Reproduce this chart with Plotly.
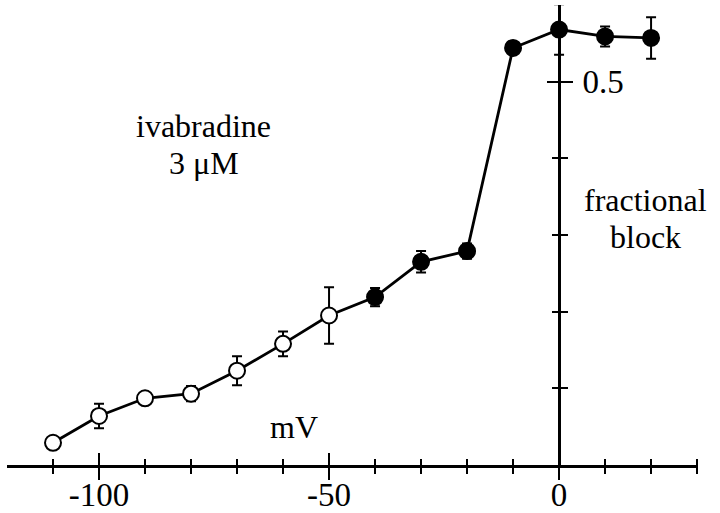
import plotly.graph_objects as go

# Data
voltage_mV = [-110, -100, -90, -80, -70, -60, -50, -40, -30, -20, -10, 0, 10, 20]
fractional_block = [0.029, 0.064, 0.087, 0.093, 0.123, 0.158, 0.195, 0.219, 0.265, 0.279, 0.544, 0.568, 0.559, 0.557]
block_err = [0.0, 0.016, 0.0, 0.010, 0.019, 0.016, 0.037, 0.012, 0.014, 0.010, 0.0, 0.033, 0.013, 0.027]
marker_fill = ["white"] * 7 + ["black"] * 7

x_major = [-100, -50, 0]
x_major_text = ["-100", "-50", "0"]
x_minor = [-110, -100, -90, -80, -70, -60, -50, -40, -30, -20, -10, 0, 10, 20, 30]
y_major = [0.5]
y_major_text = ["0.5"]
y_minor = [0.1, 0.2, 0.3, 0.4]

X_RANGE = [-120, 30.2]
Y_RANGE = [0, 0.6]
FONT = "Liberation Serif"
FS_TICK = 33
FS_TEXT = 32

fig = go.Figure()
fig.add_trace(go.Scatter(
    x=voltage_mV, y=fractional_block,
    mode="lines+markers",
    line=dict(color="black", width=2.8),
    marker=dict(size=16, color=marker_fill, line=dict(color="black", width=2)),
    error_y=dict(type="data", array=block_err, visible=True, color="black",
                 thickness=2, width=5),
    showlegend=False,
))
# empty helper traces so the overlay axes are drawn
fig.add_trace(go.Scatter(x=[None], y=[None], xaxis="x2", yaxis="y2", showlegend=False))
fig.add_trace(go.Scatter(x=[None], y=[None], xaxis="x3", yaxis="y", showlegend=False))

ypos = (0 - X_RANGE[0]) / (X_RANGE[1] - X_RANGE[0])
minor_x = dict(tickmode="array", tickvals=x_minor, ticks="outside", ticklen=6,
               tickwidth=2, tickcolor="black", showgrid=False)
minor_y = dict(tickmode="array", tickvals=y_minor, ticks="outside", ticklen=7,
               tickwidth=2, tickcolor="black", showgrid=False)

fig.update_layout(
    width=720, height=513,
    margin=dict(l=7, r=22, t=5, b=48, autoexpand=False),
    paper_bgcolor="white", plot_bgcolor="white",
    font=dict(family=FONT, size=FS_TICK, color="black"),
    # bottom axis: line and downward ticks
    xaxis=dict(
        range=X_RANGE, showgrid=False, zeroline=False, automargin=False,
        showline=True, linecolor="black", linewidth=2.5,
        ticks="outside", ticklen=12, tickwidth=2, tickcolor="black",
        tickmode="array", tickvals=x_major, showticklabels=False,
        minor=minor_x,
    ),
    # upward half of the crossing ticks
    xaxis2=dict(
        range=X_RANGE, overlaying="x", side="top", anchor="free", position=0,
        showgrid=False, zeroline=False, showline=False, automargin=False,
        ticks="outside", ticklen=12, tickwidth=2, tickcolor="black",
        tickmode="array", tickvals=x_major, showticklabels=False,
        minor=minor_x,
    ),
    # tick labels of the bottom axis
    xaxis3=dict(
        range=X_RANGE, overlaying="x", side="bottom", anchor="y",
        showgrid=False, zeroline=False, showline=False, automargin=False,
        ticks="", tickmode="array", tickvals=x_major, ticktext=x_major_text,
        tickfont=dict(family=FONT, size=FS_TICK, color="black"),
        ticklabelstandoff=7,
    ),
    yaxis=dict(
        range=Y_RANGE, showgrid=False, zeroline=False, automargin=False,
        anchor="free", position=ypos, side="right",
        showline=True, linecolor="black", linewidth=2.5,
        ticks="outside", ticklen=12, tickwidth=2, tickcolor="black",
        tickmode="array", tickvals=y_major, ticktext=y_major_text,
        minor=minor_y,
        tickfont=dict(family=FONT, size=FS_TICK, color="black"),
        ticklabelstandoff=3,
    ),
    yaxis2=dict(
        range=Y_RANGE, overlaying="y", anchor="free", position=ypos, side="left",
        showgrid=False, zeroline=False, showline=False, automargin=False,
        ticks="outside", ticklen=12, tickwidth=2, tickcolor="black",
        tickmode="array", tickvals=y_major, showticklabels=False,
        minor=minor_y,
    ),
)

annos = [
    ("ivabradine", -77.2, 0.442),
    ("3 \u03bcM", -77.2, 0.394),
    ("mV", -57.6, 0.050),
    ("fractional", 18.7, 0.3455),
    ("block", 18.7, 0.297),
]
for txt, ax_, ay_ in annos:
    fig.add_annotation(x=ax_, y=ay_, xref="x", yref="y", text=txt, showarrow=False,
                       font=dict(family=FONT, size=FS_TEXT, color="black"),
                       borderpad=0, xanchor="center", yanchor="middle")

fig.write_html("out.html", config={"displayModeBar": False},
               post_script="document.body.style.margin='0';")
